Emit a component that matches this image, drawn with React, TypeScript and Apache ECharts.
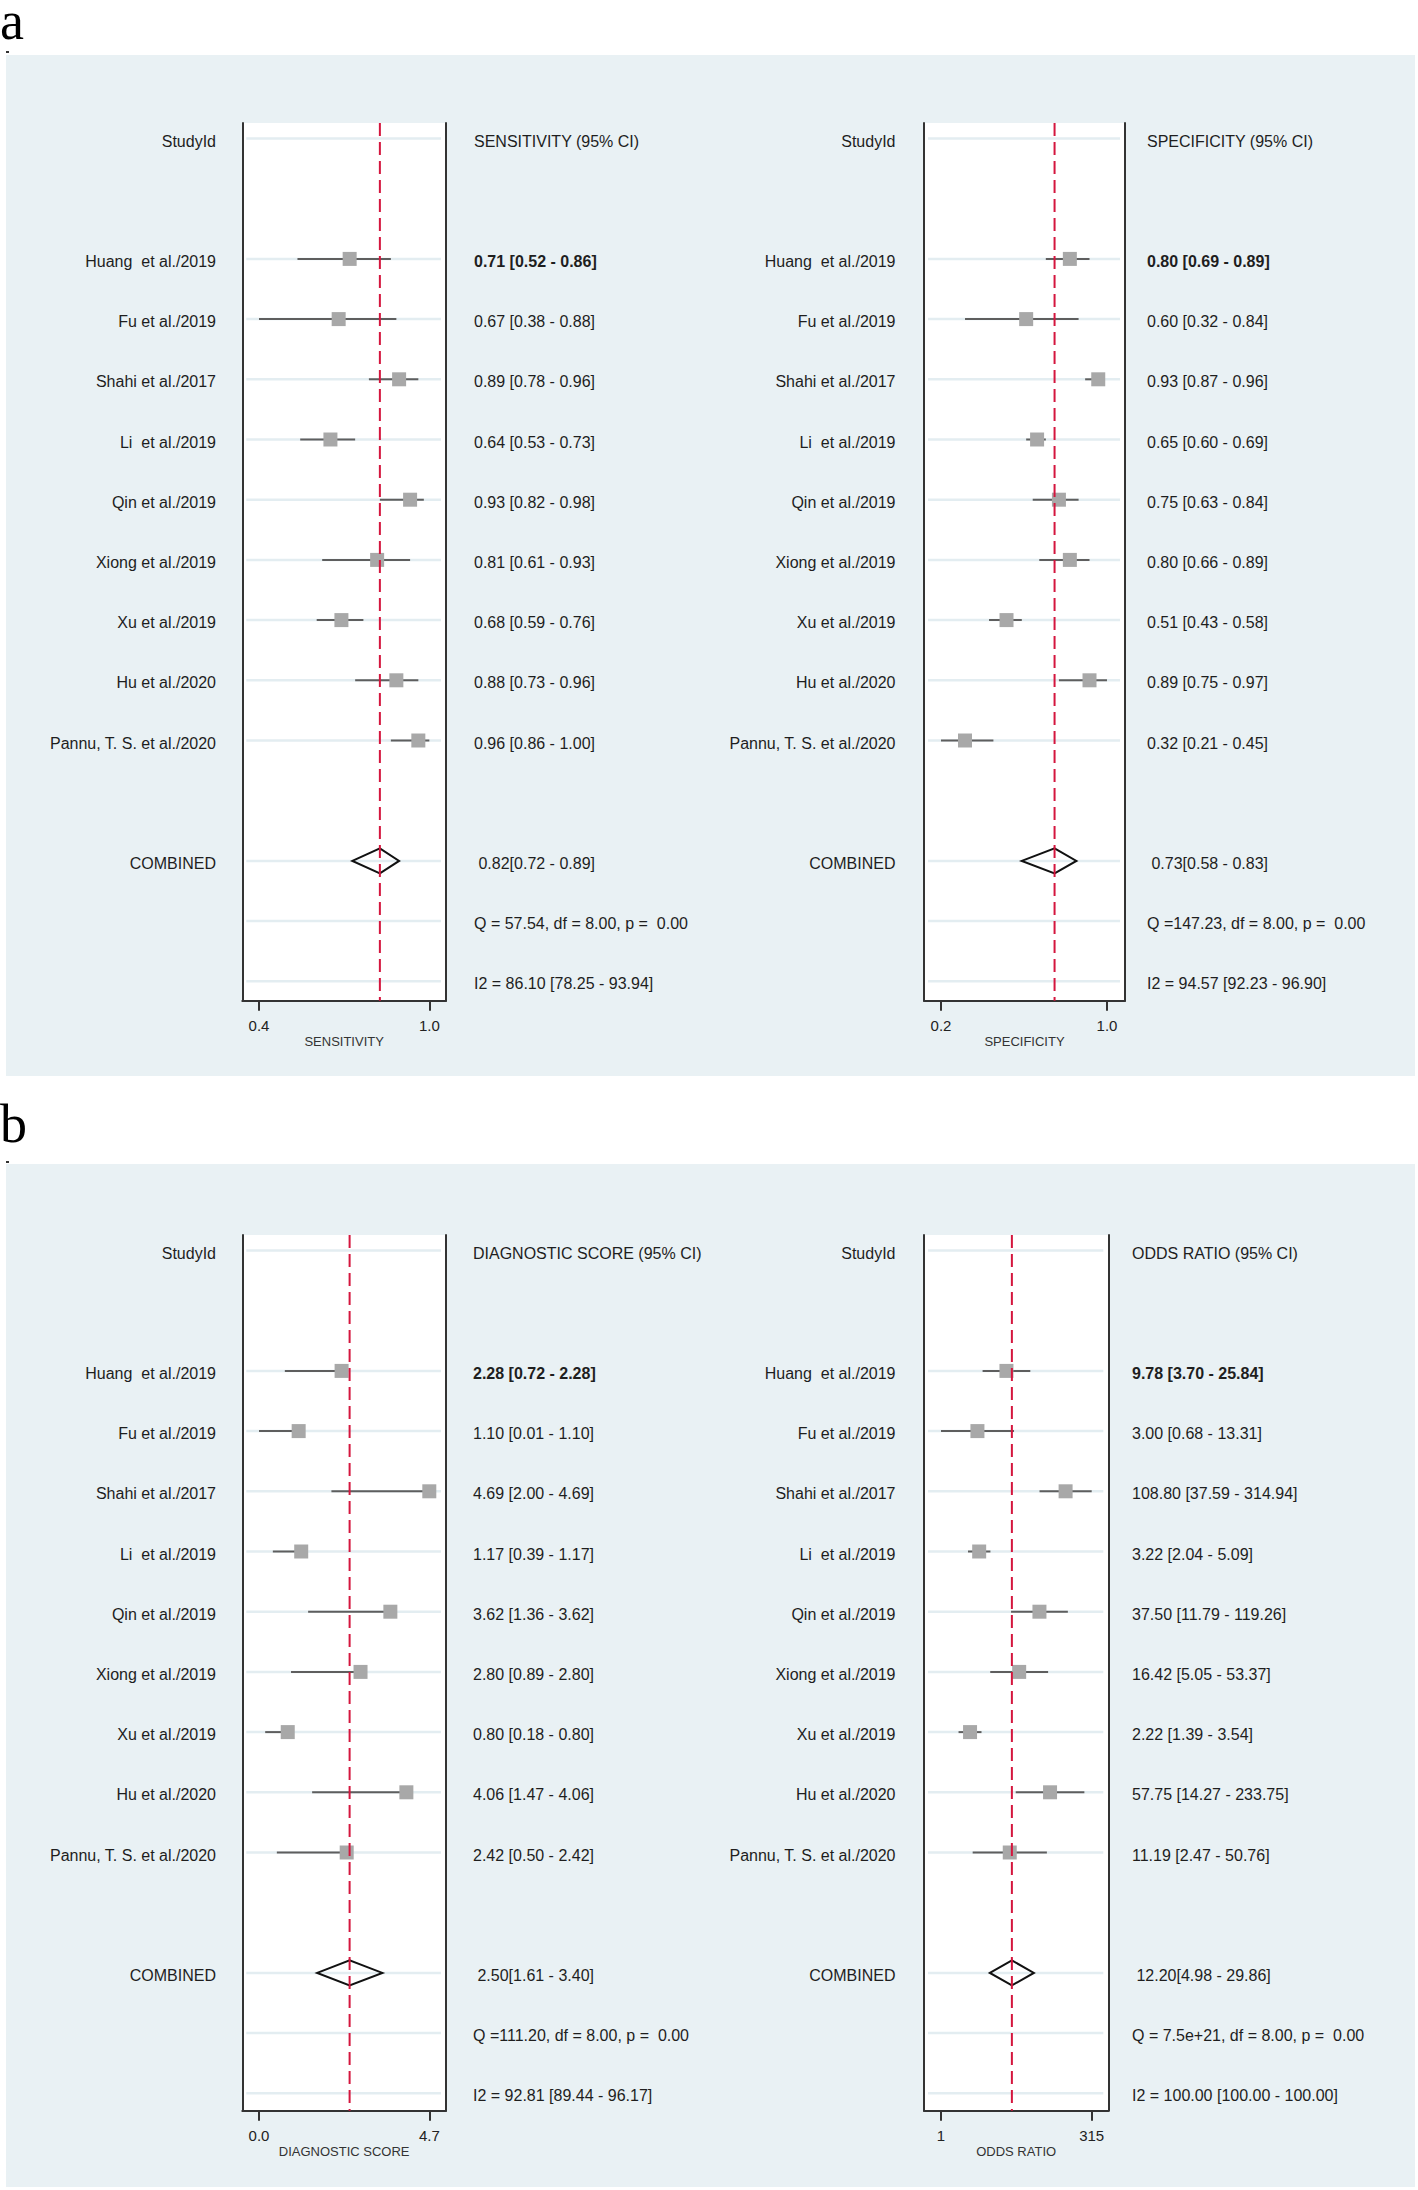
import React, { useEffect, useRef } from 'react';
import * as echarts from 'echarts';

// ---------------- DATA ----------------
const studyLabels = [
  'Huang\u00a0 et al./2019',
  'Fu et al./2019',
  'Shahi et al./2017',
  'Li\u00a0 et al./2019',
  'Qin et al./2019',
  'Xiong et al./2019',
  'Xu et al./2019',
  'Hu et al./2020',
  'Pannu, T. S. et al./2020',
];

const sensEst = [0.71, 0.67, 0.89, 0.64, 0.93, 0.81, 0.68, 0.88, 0.96];
const sensLo = [0.52, 0.38, 0.78, 0.53, 0.82, 0.61, 0.59, 0.73, 0.86];
const sensHi = [0.86, 0.88, 0.96, 0.73, 0.98, 0.93, 0.76, 0.96, 1.0];
const sensPooled = [0.82, 0.72, 0.89];
const sensQ = 'Q = 57.54, df = 8.00, p =\u00a0 0.00';
const sensI2 = 'I2 = 86.10 [78.25 - 93.94]';
const sensTickLabels = ['0.4', '1.0'];

const specEst = [0.8, 0.6, 0.93, 0.65, 0.75, 0.8, 0.51, 0.89, 0.32];
const specLo = [0.69, 0.32, 0.87, 0.6, 0.63, 0.66, 0.43, 0.75, 0.21];
const specHi = [0.89, 0.84, 0.96, 0.69, 0.84, 0.89, 0.58, 0.97, 0.45];
const specPooled = [0.73, 0.58, 0.83];
const specQ = 'Q =147.23, df = 8.00, p =\u00a0 0.00';
const specI2 = 'I2 = 94.57 [92.23 - 96.90]';
const specTickLabels = ['0.2', '1.0'];

const dsEst = [2.28, 1.1, 4.69, 1.17, 3.62, 2.8, 0.8, 4.06, 2.42];
const dsLo = [0.72, 0.01, 2.0, 0.39, 1.36, 0.89, 0.18, 1.47, 0.5];
const dsHi = [2.28, 1.1, 4.69, 1.17, 3.62, 2.8, 0.8, 4.06, 2.42];
const dsPooled = [2.5, 1.61, 3.4];
const dsQ = 'Q =111.20, df = 8.00, p =\u00a0 0.00';
const dsI2 = 'I2 = 92.81 [89.44 - 96.17]';
const dsTickLabels = ['0.0', '4.7'];

const orEst = [9.78, 3.0, 108.8, 3.22, 37.5, 16.42, 2.22, 57.75, 11.19];
const orLo = [3.7, 0.68, 37.59, 2.04, 11.79, 5.05, 1.39, 14.27, 2.47];
const orHi = [25.84, 13.31, 314.94, 5.09, 119.26, 53.37, 3.54, 233.75, 50.76];
const orPooled = [12.2, 4.98, 29.86];
const orQ = 'Q = 7.5e+21, df = 8.00, p =\u00a0 0.00';
const orI2 = 'I2 = 100.00 [100.00 - 100.00]';
const orTickLabels = ['1', '315'];

// ---------------- LAYOUT ----------------
const FONT = '"Liberation Sans", Arial, Helvetica, sans-serif';
const SERIF = '"Liberation Serif", "Times New Roman", serif';
const ROW_SPACING = 60.2;
const FIRST_ROW_OFFSET = 15.5;
const TEXT_DY = 2.5;

const panels = [
  {
    header: 'SENSITIVITY (95% CI)', axisName: 'SENSITIVITY',
    est: sensEst, lo: sensLo, hi: sensHi, pooled: sensPooled, q: sensQ, i2: sensI2,
    tickLabels: sensTickLabels, log: false,
    grid: { left: 242.3, top: 123, width: 203.7, height: 877.7 },
    xMin: 0.3192, xMax: 1.0607, labelRight: 216, valueLeft: 474,
  },
  {
    header: 'SPECIFICITY (95% CI)', axisName: 'SPECIFICITY',
    est: specEst, lo: specLo, hi: specHi, pooled: specPooled, q: specQ, i2: specI2,
    tickLabels: specTickLabels, log: false,
    grid: { left: 924, top: 123, width: 201, height: 877.7 },
    xMin: 0.1322, xMax: 1.0525, labelRight: 895.5, valueLeft: 1147,
  },
  {
    header: 'DIAGNOSTIC SCORE (95% CI)', axisName: 'DIAGNOSTIC SCORE',
    est: dsEst, lo: dsLo, hi: dsHi, pooled: dsPooled, q: dsQ, i2: dsI2,
    tickLabels: dsTickLabels, log: false,
    grid: { left: 242.3, top: 1235, width: 203.7, height: 875.7 },
    xMin: -0.449, xMax: 5.149, labelRight: 216, valueLeft: 473,
  },
  {
    header: 'ODDS RATIO (95% CI)', axisName: 'ODDS RATIO',
    est: orEst, lo: orLo, hi: orHi, pooled: orPooled, q: orQ, i2: orI2,
    tickLabels: orTickLabels, log: true,
    grid: { left: 924, top: 1235, width: 184.3, height: 875.7 },
    xMin: -1.0782, xMax: 6.429, labelRight: 895.5, valueLeft: 1132,
  },
];

const fmt = (v: number) => v.toFixed(2);

function buildOption() {
  const grids: any[] = [];
  const xAxes: any[] = [];
  const yAxes: any[] = [];
  const series: any[] = [];

  panels.forEach((p, i) => {
    const f = p.log ? (v: number) => Math.log(v) : (v: number) => v;
    const tickVals = [f(Math.min(...p.lo)), f(Math.max(...p.hi))];
    const yMin = -FIRST_ROW_OFFSET / ROW_SPACING;
    const yMax = yMin + p.grid.height / ROW_SPACING;

    grids.push({
      left: p.grid.left, top: p.grid.top, width: p.grid.width, height: p.grid.height,
      show: true, backgroundColor: '#ffffff', borderWidth: 0, containLabel: false,
    });

    xAxes.push({
      gridIndex: i, type: 'value', min: p.xMin, max: p.xMax,
      axisLine: { show: true, onZero: false, lineStyle: { color: '#333333', width: 2 } },
      axisTick: { show: true, customValues: tickVals, length: 10, lineStyle: { color: '#333333', width: 2 } },
      axisLabel: {
        show: true, customValues: tickVals, margin: 17, fontSize: 15, fontFamily: FONT, color: '#222222',
        formatter: (v: number) => {
          let best = 0;
          tickVals.forEach((t, k) => { if (Math.abs(t - v) < Math.abs(tickVals[best] - v)) best = k; });
          return p.tickLabels[best];
        },
      },
      splitLine: { show: false },
      name: p.axisName, nameLocation: 'middle', nameGap: 34,
      nameTextStyle: { fontSize: 13, fontFamily: FONT, color: '#333333' },
    });

    const yBase = {
      gridIndex: i, type: 'value', inverse: true, min: yMin, max: yMax,
      axisLine: { show: true, onZero: false, lineStyle: { color: '#333333', width: 2 } },
      axisTick: { show: false }, axisLabel: { show: false }, splitLine: { show: false },
    };
    yAxes.push({ ...yBase, position: 'left' });
    yAxes.push({ ...yBase, position: 'right' });

    // table rows: header, studies, pooled, Q, I2
    const rows: { slot: number; label: string; value: string; bold: boolean }[] = [];
    rows.push({ slot: 0, label: 'StudyId', value: p.header, bold: false });
    studyLabels.forEach((s, k) => {
      rows.push({
        slot: k + 2, label: s,
        value: `${fmt(p.est[k])} [${fmt(p.lo[k])} - ${fmt(p.hi[k])}]`,
        bold: k === 0,
      });
    });
    rows.push({
      slot: 12, label: 'COMBINED',
      value: `\u00a0${fmt(p.pooled[0])}[${fmt(p.pooled[1])} - ${fmt(p.pooled[2])}]`, bold: false,
    });
    rows.push({ slot: 13, label: '', value: p.q, bold: false });
    rows.push({ slot: 14, label: '', value: p.i2, bold: false });

    const pooledX = f(p.pooled[0]);

    series.push({
      type: 'custom', name: `table${i}`, xAxisIndex: i, yAxisIndex: 2 * i, z: 1, clip: false,
      encode: { x: 0, y: 1 },
      data: rows.map((r) => [pooledX, r.slot]),
      renderItem: (params: any, api: any) => {
        const r = rows[params.dataIndex];
        const cs = params.coordSys;
        const y = api.coord([api.value(0), api.value(1)])[1];
        const textStyle = (text: string, align: string, bold: boolean) => ({
          text, fill: '#1e1e1e', fontSize: 16, fontFamily: FONT, fontWeight: bold ? 'bold' : 'normal',
          align, textAlign: align, verticalAlign: 'middle', textVerticalAlign: 'middle',
        });
        const children: any[] = [
          {
            type: 'line',
            shape: { x1: cs.x + 4, y1: y, x2: cs.x + cs.width - 5, y2: y },
            style: { stroke: '#e3edf1', lineWidth: 2.5 },
          },
        ];
        if (r.label) children.push({ type: 'text', x: p.labelRight, y: y + TEXT_DY, style: textStyle(r.label, 'right', false) });
        if (r.value) children.push({ type: 'text', x: p.valueLeft, y: y + TEXT_DY, style: textStyle(r.value, 'left', r.bold) });
        return { type: 'group', children };
      },
    });

    series.push({
      type: 'custom', name: `ci${i}`, xAxisIndex: i, yAxisIndex: 2 * i, z: 3, clip: false,
      encode: { x: [0, 2, 3], y: 1 },
      data: p.est.map((e, k) => [f(e), k + 2, f(p.lo[k]), f(p.hi[k])]),
      renderItem: (params: any, api: any) => {
        const slot = api.value(1);
        const c = api.coord([api.value(0), slot]);
        const l = api.coord([api.value(2), slot]);
        const h = api.coord([api.value(3), slot]);
        const s = 14;
        return {
          type: 'group',
          children: [
            { type: 'line', shape: { x1: l[0], y1: l[1], x2: h[0], y2: h[1] }, style: { stroke: '#5e5e5e', lineWidth: 2 } },
            { type: 'rect', shape: { x: c[0] - s / 2, y: c[1] - s / 2, width: s, height: s }, style: { fill: '#a8a8a8' } },
          ],
        };
      },
    });

    series.push({
      type: 'custom', name: `pooled${i}`, xAxisIndex: i, yAxisIndex: 2 * i, z: 4, clip: false,
      encode: { x: [0, 2, 3], y: 1 },
      data: [[f(p.pooled[0]), 12, f(p.pooled[1]), f(p.pooled[2])]],
      renderItem: (params: any, api: any) => {
        const slot = api.value(1);
        const c = api.coord([api.value(0), slot]);
        const l = api.coord([api.value(2), slot]);
        const h = api.coord([api.value(3), slot]);
        const hh = 12.5;
        return {
          type: 'polygon',
          shape: { points: [[l[0], c[1]], [c[0], c[1] - hh], [h[0], c[1]], [c[0], c[1] + hh]] },
          style: { fill: 'none', stroke: '#111111', lineWidth: 2 },
        };
      },
    });

    series.push({
      type: 'custom', name: `ref${i}`, xAxisIndex: i, yAxisIndex: 2 * i, z: 5, clip: false,
      encode: { x: 0, y: 1 },
      data: [[pooledX, 12]],
      renderItem: (params: any, api: any) => {
        const cs = params.coordSys;
        const x = api.coord([api.value(0), api.value(1)])[0];
        return {
          type: 'line',
          shape: { x1: x, y1: cs.y, x2: x, y2: cs.y + cs.height },
          style: { stroke: '#d4163e', lineWidth: 2, lineDash: [13, 6] },
        };
      },
    });
  });

  const graphic = {
    elements: [
      { type: 'rect', z: -100, shape: { x: 6, y: 55, width: 1409, height: 1021 }, style: { fill: '#e9f1f4' } },
      { type: 'rect', z: -100, shape: { x: 6, y: 1164, width: 1409, height: 1023 }, style: { fill: '#e9f1f4' } },
      { type: 'rect', z: -99, shape: { x: 6, y: 51, width: 3, height: 2 }, style: { fill: '#333333' } },
      { type: 'rect', z: -99, shape: { x: 6, y: 1161, width: 3, height: 2 }, style: { fill: '#333333' } },
      {
        type: 'text', x: 0, y: 21,
        style: {
          text: 'a', font: `54px ${SERIF}`, fill: '#000000', lineHeight: 40,
          textVerticalAlign: 'middle', verticalAlign: 'middle',
        },
      },
      {
        type: 'text', x: 0, y: 1124,
        style: {
          text: 'b', font: `54px ${SERIF}`, fill: '#000000',
          textVerticalAlign: 'middle', verticalAlign: 'middle',
        },
      },
    ],
  };

  return {
    animation: false,
    backgroundColor: '#ffffff',
    grid: grids,
    xAxis: xAxes,
    yAxis: yAxes,
    series,
    graphic,
  };
}

export default function App() {
  const ref = useRef<HTMLDivElement>(null);
  useEffect(() => {
    if (!ref.current) return;
    const chart = echarts.init(ref.current, undefined, { renderer: 'svg' });
    chart.setOption(buildOption() as any);
    return () => chart.dispose();
  }, []);
  return (
    <div
      ref={ref}
      style={{ position: 'absolute', left: 0, top: 0, width: 1418, height: 2190 }}
    />
  );
}
